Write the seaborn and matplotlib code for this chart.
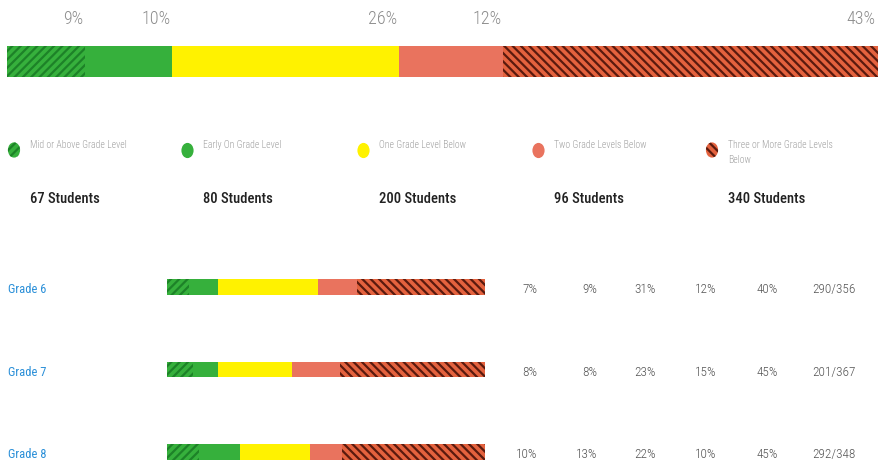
import matplotlib
matplotlib.use("Agg")
import matplotlib.pyplot as plt
import matplotlib.transforms as mtrans
from matplotlib import font_manager as fm
from matplotlib.path import Path
import numpy as np
import pandas as pd
import seaborn as sns

# ---------------- data ----------------
levels = ["Mid or Above Grade Level", "Early On Grade Level", "One Grade Level Below",
          "Two Grade Levels Below", "Three or More Grade Levels\nBelow"]
overall_pct = [9, 10, 26, 12, 43]
student_counts = [67, 80, 200, 96, 340]
grades = ["Grade 6", "Grade 7", "Grade 8"]
grade6_pct = [7, 9, 31, 12, 40]
grade7_pct = [8, 8, 23, 15, 45]
grade8_pct = [10, 13, 22, 10, 45]
ratios = ["290/356", "201/367", "292/348"]

# ---------------- style ----------------
sns.set_theme(style="white")
names = {f.name for f in fm.fontManager.ttflist}
fam = "Roboto"
for cand in ["Roboto Condensed", "Liberation Sans Narrow", "Roboto"]:
    if cand in names:
        fam = cand
        break
plt.rcParams["font.family"] = [fam, "DejaVu Sans"]
plt.rcParams["hatch.linewidth"] = 1.6

face = ["#36b03c", "#36b03c", "#fff200", "#e9735e", "#e4623e"]
hatch = ["////", None, None, None, "\\\\\\\\"]
hatch_col = ["#1d8228", "#36b03c", "#fff200", "#e9735e", "#5a1a0e"]

W, H = 880, 464
fig = plt.figure(figsize=(W / 100, H / 100), dpi=100)


def fx(x):
    return x / W


def fy(y):
    return 1 - y / H


def stacked(ax, cats, rows, width):
    """Draw 100%-stacked horizontal bars via overlaid cumulative seaborn bars."""
    arr = np.array(rows, dtype=float)
    arr = arr / arr.sum(axis=1, keepdims=True) * 100
    cum = np.cumsum(arr, axis=1)
    for k in range(arr.shape[1] - 1, -1, -1):
        df = pd.DataFrame({"cat": cats, "val": cum[:, k]})
        sns.barplot(data=df, x="val", y="cat", orient="y", color=face[k],
                    saturation=1, width=width, hatch=hatch[k],
                    edgecolor=hatch_col[k], linewidth=0, ax=ax, errorbar=None)
    ax.set_xlim(0, 100)
    ax.axis("off")
    return cum


# ---------------- overall bar ----------------
ax_top = fig.add_axes([fx(7), fy(78), fx(871), 31 / H])
cum_top = stacked(ax_top, ["All"], [overall_pct], 1.0)
ax_top.set_ylim(0.5, -0.5)
tr_top = mtrans.blended_transform_factory(ax_top.transData, fig.transFigure)
for k, p in enumerate(overall_pct):
    ax_top.text(cum_top[0, k] - 0.25, fy(19), f"{p}%", transform=tr_top,
                ha="right", va="center", fontsize=13, color="#8c8c8c",
                fontweight="light")

# ---------------- legend row ----------------
ax_leg = fig.add_axes([0, 0, 1, 1], zorder=-1)
ax_leg.set_xlim(0, W)
ax_leg.set_ylim(H, 0)
ax_leg.axis("off")
circ = Path.unit_circle()
oval = Path(circ.vertices * np.array([0.8, 1.0]), circ.codes)
leg_x = [14, 187, 363, 538, 712]
for k, (lab, n) in enumerate(zip(levels, student_counts)):
    ax_leg.scatter([leg_x[k]], [151], s=120, marker=oval, color=face[k],
                   hatch=hatch[k], edgecolors=hatch_col[k], linewidths=0)
    ax_leg.text(leg_x[k] + 16, 140, lab, ha="left", va="top", fontsize=7,
                color="#a0a0a0", linespacing=1.6, fontweight="light")
    ax_leg.text(leg_x[k] + 16, 199, f"{n} Students", ha="left", va="center",
                fontsize=10.5, color="#222222", fontweight="medium")

# ---------------- grade bars ----------------
ax_g = fig.add_axes([fx(167), 0, fx(318), (H - 275) / H])
stacked(ax_g, grades, [grade6_pct, grade7_pct, grade8_pct], 0.182)
ax_g.set_ylim(2.1333, -0.1576)
tr_g = mtrans.blended_transform_factory(fig.transFigure, ax_g.transData)
col_right = [537, 597, 656, 716, 778]
for i, (g, row, r) in enumerate(zip(grades, [grade6_pct, grade7_pct, grade8_pct], ratios)):
    ax_g.text(fx(8), i + 0.02, g, transform=tr_g, ha="left", va="center",
              fontsize=9, color="#2a8fd8", clip_on=False)
    for k, p in enumerate(row):
        ax_g.text(fx(col_right[k]), i + 0.02, f"{p}%", transform=tr_g, ha="right",
                  va="center", fontsize=9.5, color="#555555", clip_on=False,
                  fontweight="light")
    ax_g.text(fx(856), i + 0.02, r, transform=tr_g, ha="right", va="center",
              fontsize=9.5, color="#555555", clip_on=False, fontweight="light")

fig.savefig("out.png", dpi=100)
